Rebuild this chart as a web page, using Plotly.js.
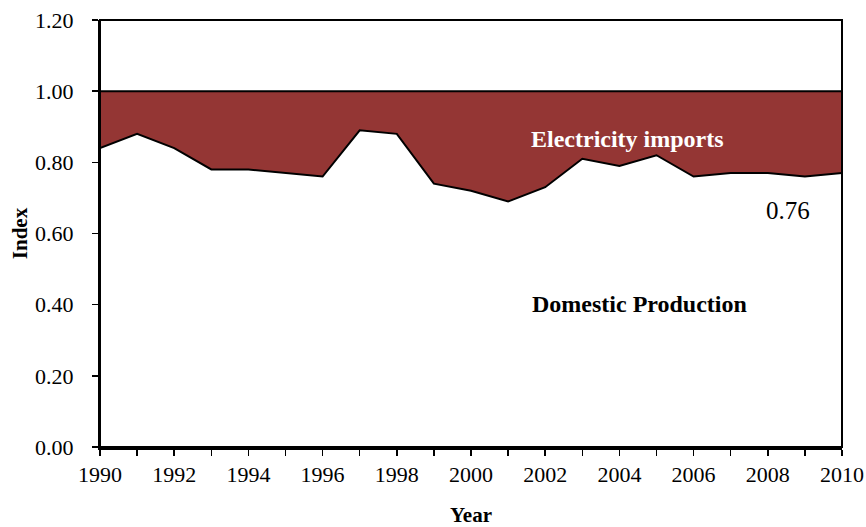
<!DOCTYPE html>
<html>
<head>
<meta charset="utf-8">
<script src="https://cdn.plot.ly/plotly-3.0.1.min.js"></script>
<style>html,body{margin:0;padding:0;background:#fff;}#chart{width:866px;height:527px;}</style>
</head>
<body>
<div id="chart"></div>
<script>
const years = [1990,1991,1992,1993,1994,1995,1996,1997,1998,1999,2000,2001,2002,2003,2004,2005,2006,2007,2008,2009,2010];
const domesticProduction = [0.84,0.88,0.84,0.78,0.78,0.77,0.76,0.89,0.88,0.74,0.72,0.69,0.73,0.81,0.79,0.82,0.76,0.77,0.77,0.76,0.77];
const totalSupply = [1.00,1.00,1.00,1.00,1.00,1.00,1.00,1.00,1.00,1.00,1.00,1.00,1.00,1.00,1.00,1.00,1.00,1.00,1.00,1.00,1.00];
const yTickVals = [0,0.2,0.4,0.6,0.8,1.0,1.2];
const yTickText = ["0.00","0.20","0.40","0.60","0.80","1.00","1.20"];
const xTickVals = [1990,1992,1994,1996,1998,2000,2002,2004,2006,2008,2010];

const font = "Liberation Serif";
const brown = "#943634";

const traces = [
  {x: years, y: domesticProduction, type: 'scatter', mode: 'lines', fill: 'tozeroy',
   fillcolor: '#ffffff', line: {color: '#000', width: 2}, name: 'Domestic Production', hoverinfo: 'x+y'},
  {x: years, y: totalSupply, type: 'scatter', mode: 'lines', fill: 'tonexty',
   fillcolor: brown, line: {color: '#000', width: 2}, name: 'Electricity imports', hoverinfo: 'x+y'}
];

const layout = {
  width: 866, height: 527,
  margin: {l: 100, r: 24, t: 20, b: 80},
  paper_bgcolor: '#fff', plot_bgcolor: '#fff',
  showlegend: false,
  font: {family: font, color: '#000', size: 20},
  xaxis: {
    range: [1990, 2010], tickmode: 'array', tickvals: xTickVals,
    ticks: 'outside', ticklen: 6, tickwidth: 1.5, tickcolor: '#000',
    minor: {dtick: 1, tick0: 1990, ticks: 'outside', ticklen: 6, tickwidth: 1.5, tickcolor: '#000'},
    showline: true, linecolor: '#000', linewidth: 3,
    showgrid: false, zeroline: false,
    tickfont: {family: font, size: 22, color: '#000'},
    title: {text: '<b>Year</b>', font: {family: font, size: 21, color: '#000'}, standoff: 34}
  },
  yaxis: {
    range: [0, 1.2], tickmode: 'array', tickvals: yTickVals, ticktext: yTickText,
    ticks: 'outside', ticklen: 6, tickwidth: 1.5, tickcolor: '#000',
    ticklabelstandoff: 14,
    showline: true, linecolor: '#000', linewidth: 2,
    showgrid: false, zeroline: false,
    tickfont: {family: font, size: 22, color: '#000'},
    title: {text: '<b>Index</b>', font: {family: font, size: 21, color: '#000'}, standoff: 2}
  },
  shapes: [
    {type: 'rect', xref: 'paper', yref: 'paper', x0: 0, x1: 1, y0: 0, y1: 1,
     line: {color: '#000', width: 2}, fillcolor: 'rgba(0,0,0,0)', layer: 'above'}
  ],
  annotations: [
    {x: 2004.23, y: 0.865, xref: 'x', yref: 'y', text: '<b>Electricity imports</b>', showarrow: false,
     font: {family: font, size: 24, color: '#fff'}},
    {x: 2004.55, y: 0.403, xref: 'x', yref: 'y', text: '<b>Domestic Production</b>', showarrow: false,
     font: {family: font, size: 24, color: '#000'}},
    {x: 2008.55, y: 0.664, xref: 'x', yref: 'y', text: '0.76', showarrow: false,
     font: {family: font, size: 25, color: '#000'}}
  ]
};

Plotly.newPlot('chart', traces, layout, {displayModeBar: false, staticPlot: true});
</script>
</body>
</html>
